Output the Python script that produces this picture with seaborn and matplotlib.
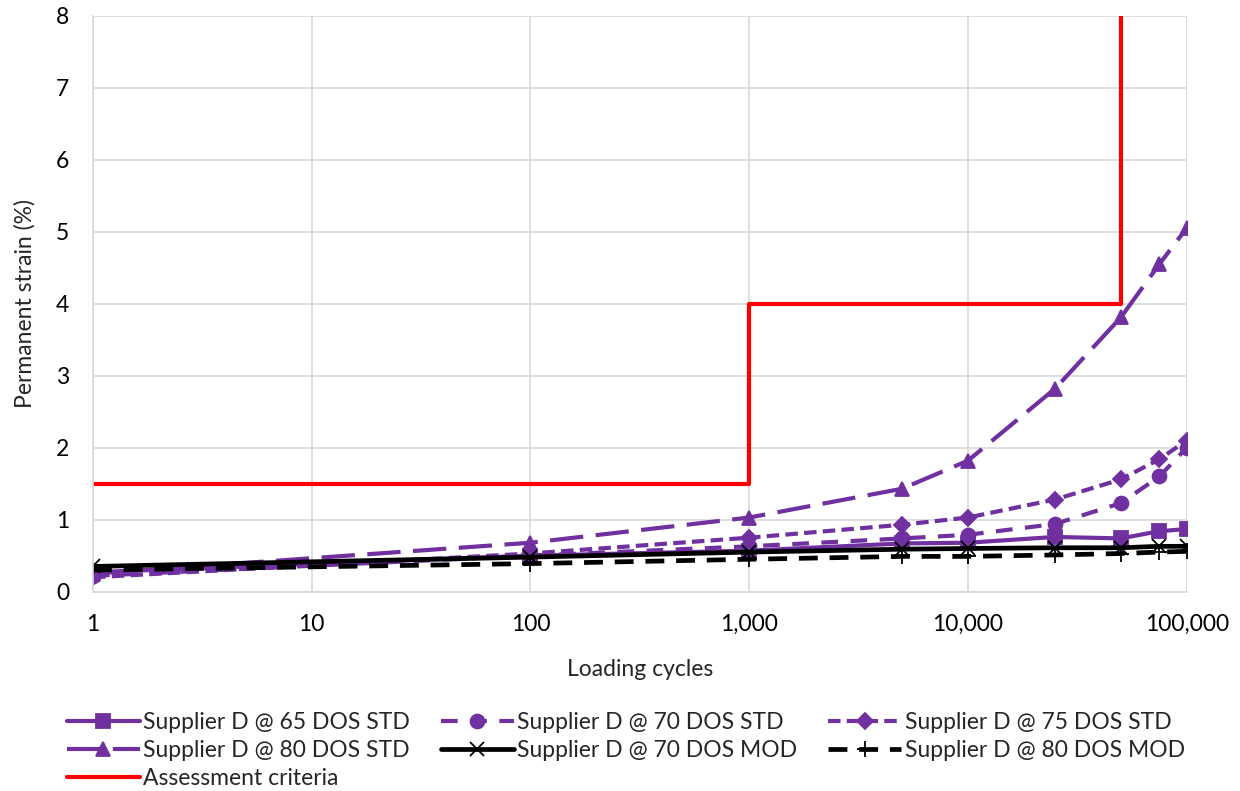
import matplotlib
matplotlib.use("Agg")
import matplotlib.pyplot as plt
import matplotlib.ticker as mticker
import seaborn as sns

cycles = [1, 100, 1000, 5000, 10000, 25000, 50000, 75000, 100000]
d65_std = [0.27, 0.50, 0.57, 0.67, 0.68, 0.76, 0.74, 0.84, 0.87]
d70_std = [0.22, 0.50, 0.63, 0.74, 0.79, 0.94, 1.23, 1.60, 2.00]
d75_std = [0.20, 0.53, 0.75, 0.93, 1.03, 1.28, 1.56, 1.84, 2.10]
d80_std = [0.25, 0.68, 1.03, 1.43, 1.82, 2.82, 3.81, 4.55, 5.05]
d70_mod = [0.35, 0.48, 0.55, 0.59, 0.60, 0.61, 0.61, 0.63, 0.63]
d80_mod = [0.30, 0.39, 0.45, 0.49, 0.49, 0.51, 0.53, 0.55, 0.56]

crit_x = [1, 1000, 1000, 50000, 50000]
crit_y = [1.5, 1.5, 4, 4, 8.5]

xticks = [1, 10, 100, 1000, 10000, 100000]

sns.set_theme(style="whitegrid")
plt.rcParams['font.family'] = ['Lato', 'DejaVu Sans']

purple = "#7030A0"
fig, ax = plt.subplots(figsize=(12.4, 7.91), dpi=100)
fig.subplots_adjust(left=0.075, right=0.957, top=0.98, bottom=0.252)

series = [
    ("Supplier D @ 65 DOS STD", d65_std, purple, "s", "-", 9.5, 3.0),
    ("Supplier D @ 70 DOS STD", d70_std, purple, "o", (0, (4, 3)), 10, 3.0),
    ("Supplier D @ 75 DOS STD", d75_std, purple, "D", (0, (3, 1.5)), 8, 3.0),
    ("Supplier D @ 80 DOS STD", d80_std, purple, "^", (0, (8, 3)), 10, 3.0),
    ("Supplier D @ 70 DOS MOD", d70_mod, "black", "x", "-", 10, 3.4),
    ("Supplier D @ 80 DOS MOD", d80_mod, "black", "+", (0, (4, 2.5)), 12, 3.4),
]
for name, vals, col, mk, ls, ms, lw in series:
    sns.lineplot(x=cycles, y=vals, ax=ax, color=col, marker=mk, markersize=ms,
                 linestyle=ls, linewidth=lw, label=name,
                 markeredgecolor=col, markeredgewidth=1.3)

sns.lineplot(x=crit_x, y=crit_y, ax=ax, color="#FF0000", linewidth=3.0,
             label="Assessment criteria", sort=False, estimator=None)

ax.set_xscale("log")
ax.set_xlim(1, 100000)
ax.set_ylim(0, 8)
ax.set_xticks(xticks)
ax.xaxis.set_major_formatter(mticker.FuncFormatter(lambda v, p: f"{int(v):,}"))
ax.xaxis.set_minor_locator(mticker.NullLocator())
ax.set_yticks(range(0, 9))
ax.grid(True, color="#d9d9d9", linewidth=1.2)
for s in ["top", "right"]:
    ax.spines[s].set_visible(False)
for s in ["left", "bottom"]:
    ax.spines[s].set_color("#d9d9d9")
    ax.spines[s].set_linewidth(1.2)
ax.tick_params(axis="both", labelsize=16.5, length=0, colors="black")
ax.tick_params(axis="y", pad=17)
ax.tick_params(axis="x", pad=16)
ax.set_xlabel("Loading cycles", fontsize=16.5, labelpad=17)
ax.set_ylabel("Permanent strain (%)", fontsize=16.5, labelpad=15)

# legend is filled column by column, so reorder to read row by row
h, l = ax.get_legend_handles_labels()
order = [0, 3, 6, 1, 4, 2, 5]
ax.legend([h[i] for i in order], [l[i] for i in order],
          loc="upper left", bbox_to_anchor=(-0.043, -0.173), ncol=3, frameon=False,
          fontsize=16.5, handlelength=3.2, handletextpad=0.15, columnspacing=1.33,
          labelspacing=0.3)

fig.savefig("out.png", dpi=100)
